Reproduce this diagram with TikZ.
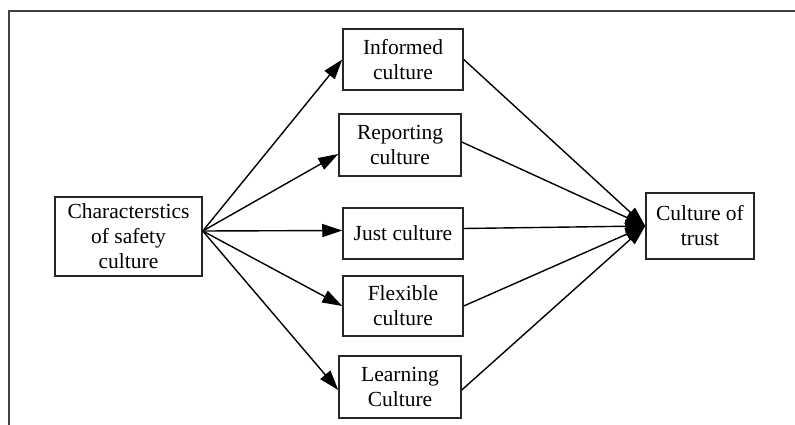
\documentclass[tikz,border=0pt]{standalone}
\usepackage{fontspec}
\setmainfont{Liberation Serif}
\usetikzlibrary{arrows.meta}
\begin{document}
\begin{tikzpicture}[x=1pt,y=-1pt,
  box/.style={draw=black!85,line width=1.5pt,align=center,inner sep=2pt,
    font=\fontsize{21.5}{25}\selectfont},
  link/.style={draw=black,line width=1.4pt,-{Triangle[length=20pt,width=13pt]}}]
\useasboundingbox (0,0) rectangle (795,425);
% open frame: top and left edges
\draw[black!75,line width=1.2pt] (795,11) -- (9,11) -- (9,425);
% boxes
\node[box,minimum width=147pt,minimum height=79pt] (char) at (128.5,236.5) {Characterstics\\of safety\\culture};
\node[box,minimum width=120pt,minimum height=61pt] (inf) at (403,59.5) {Informed\\culture};
\node[box,minimum width=122pt,minimum height=62pt] (rep) at (400,145) {Reporting\\culture};
\node[box,minimum width=120pt,minimum height=51pt] (just) at (403,233.5) {Just culture};
\node[box,minimum width=120pt,minimum height=60pt] (flex) at (403,306) {Flexible\\culture};
\node[box,minimum width=122pt,minimum height=62pt] (learn) at (400,387) {Learning\\Culture};
\node[box,minimum width=108pt,minimum height=66pt] (trust) at (700,226) {Culture of\\trust};
% fan-out from the characteristics box
\coordinate (src) at ([yshift=5.5pt]char.east);
\draw[link] (src) -- (inf.west);
\draw[link] (src) -- ([yshift=-9pt]rep.west);
\draw[link] (src) -- ([yshift=3pt]just.west);
\draw[link] (src) -- (flex.west);
\draw[link] (src) -- ([yshift=-3pt]learn.west);
% fan-in to the culture of trust
\draw[link] (inf.east) -- (trust.west);
\draw[link] ([yshift=3pt]rep.east) -- (trust.west);
\draw[link] ([yshift=5pt]just.east) -- (trust.west);
\draw[link] (flex.east) -- (trust.west);
\draw[link] ([yshift=-3pt]learn.east) -- (trust.west);
\end{tikzpicture}
\end{document}
